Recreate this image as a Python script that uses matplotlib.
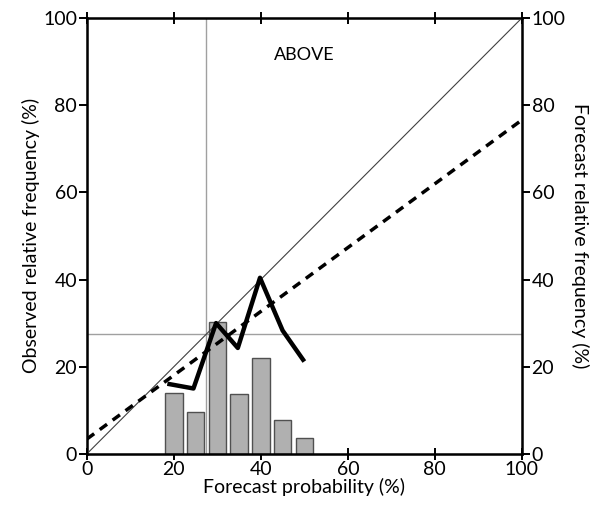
import numpy as np
import matplotlib.pyplot as plt

plt.rcParams['font.family'] = ['Lato', 'DejaVu Sans']

# Forecast probability bins (%)
bins = [20, 25, 30, 35, 40, 45, 50]
# Forecast relative frequency (%) - histogram
forecast_freq = [14, 9.7, 30.2, 13.7, 22, 7.7, 3.6]
# Observed relative frequency (%) - reliability curve
obs_x = [19, 24.5, 29.7, 34.7, 39.8, 45, 49.7]
obs_freq = [16, 15, 30, 24.3, 40.4, 28.3, 21.6]

# Weighted regression line endpoints
reg_x = [0, 100]
reg_y = [3.4, 76.6]
clim = 27.5

fig = plt.figure(figsize=(5.91, 5.14), dpi=100)
ax = fig.add_axes([0.147, 0.117, 0.736, 0.848])

ax.bar(bins, forecast_freq, width=4, color='#b0b0b0', edgecolor='#505050', linewidth=1, zorder=2)
ax.plot([0, 100], [0, 100], color='#404040', lw=0.8, zorder=3)
ax.axhline(clim, color='#a0a0a0', lw=1, zorder=1)
ax.axvline(clim, color='#a0a0a0', lw=1, zorder=1)
ax.plot(reg_x, reg_y, 'k--', lw=2.5, dashes=(2.6, 2), zorder=4)
ax.plot(obs_x, obs_freq, color='black', lw=3.2, zorder=5)
ax.text(50, 91.5, 'ABOVE', ha='center', va='center', fontsize=13)

ax.set_xlim(0, 100)
ax.set_ylim(0, 100)
ax.set_xticks(np.arange(0, 101, 20))
ax.set_yticks(np.arange(0, 101, 20))
ax.tick_params(axis='both', labelsize=14, width=1.4, length=6, pad=1)
ax.tick_params(axis='x', top=True, direction='inout', length=8)
ax.tick_params(axis='y', direction='out')
for s in ax.spines.values():
    s.set_linewidth(1.8)
ax.set_xlabel('Forecast probability (%)', fontsize=14, labelpad=0)
ax.set_ylabel('Observed relative frequency (%)', fontsize=14, labelpad=2)

ax2 = ax.twinx()
ax2.set_ylim(0, 100)
ax2.set_yticks(np.arange(0, 101, 20))
ax2.tick_params(axis='y', labelsize=14, width=1.4, length=6, pad=1, direction='out')
ax2.set_ylabel('Forecast relative frequency (%)', fontsize=14, rotation=270, labelpad=17)

fig.savefig('out.png', dpi=100)
